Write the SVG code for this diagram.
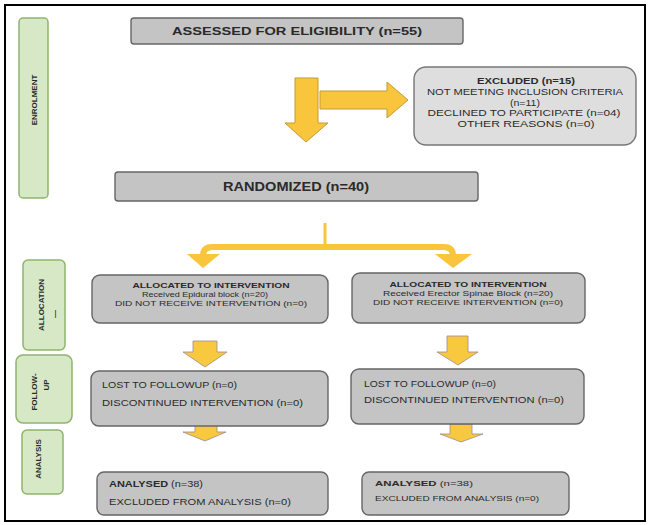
<svg xmlns="http://www.w3.org/2000/svg" width="649" height="525" viewBox="0 0 649 525">
<style>
.tab{fill:#d6e8c6;stroke:#8fb46e;stroke-width:1.5}
.tabt{font-family:"Liberation Sans",Arial,sans-serif;font-size:8px;font-weight:bold;fill:#2a2a2a;text-anchor:middle}
.box{fill:#c4c4c4;stroke:#666;stroke-width:1.4}
.lbox{fill:#dedede;stroke:#777;stroke-width:1.4}
.t{font-family:"Liberation Sans",Arial,sans-serif;fill:#2a2a2a}
.b{font-weight:bold}
.c{text-anchor:middle}
.arr{fill:#f8c53c;stroke:#c39a36;stroke-width:1}
.sarr{fill:#f8c83f;stroke:#9b8a9a;stroke-width:0.8}
</style>
<rect x="0" y="0" width="649" height="525" fill="#fff"/>
<rect x="5" y="5" width="640" height="516" fill="none" stroke="#000" stroke-width="2"/>

<g id="tab-enrolment">
<rect class="tab" x="19" y="18" width="29" height="180" rx="4"/>
<text class="tabt" transform="rotate(-90 34 100)" x="34" y="103">ENROLMENT</text>
</g>
<g id="tab-allocation">
<rect class="tab" x="23" y="260" width="42" height="90" rx="5"/>
<text class="tabt" transform="rotate(-90 41 305)" x="41" y="308">ALLOCATION</text>
<text class="tabt" transform="rotate(-90 54 314)" x="54" y="317">—</text>
</g>
<g id="tab-followup">
<rect class="tab" x="16" y="355" width="56" height="68" rx="7"/>
<text class="tabt" transform="rotate(-90 34 392)" x="34" y="395">FOLLOW-</text>
<text class="tabt" transform="rotate(-90 46 385)" x="46" y="388">UP</text>
</g>
<g id="tab-analysis">
<rect class="tab" x="22" y="430" width="41" height="64" rx="5"/>
<text class="tabt" transform="rotate(-90 38 459)" x="38" y="462">ANALYSIS</text>
</g>

<g id="connectors">
<path class="arr" d="M295 78 H318 V123 H328 L306 142 L285 123 H295 Z"/>
<path class="arr" d="M320 91 H387 V82 L408 100 L387 118 V109 H320 Z"/>
<line x1="325" y1="223" x2="325" y2="247" stroke="#f8c53c" stroke-width="3"/>
<path d="M203 256 Q203 247 212 247 L444 247 Q453 247 453 256" fill="none" stroke="#f8c53c" stroke-width="6"/>
<polygon points="187,254 220,254 203,268" fill="#f8c53c"/>
<polygon points="435,254 472,254 453,268" fill="#f8c53c"/>
<path class="sarr" d="M193 341 H217 V352 H227 L205 367 L183 352 H193 Z"/>
<path class="sarr" d="M447 336 H468 V352 H478 L458 365 L437 352 H447 Z"/>
<path class="sarr" d="M195 424 H217 V432 H226 L205 441 L183 432 H195 Z"/>
<path class="sarr" d="M450 424 H472 V434 H483 L461 442 L440 434 H450 Z"/>
</g>

<g id="assessed">
<rect class="box" x="131" y="18" width="332" height="26" rx="3"/>
<text class="t b c" x="297" y="35" font-size="11.5" textLength="250" lengthAdjust="spacingAndGlyphs">ASSESSED FOR ELIGIBILITY (n=55)</text>
</g>
<g id="excluded">
<rect class="lbox" x="414" y="67" width="222" height="78" rx="12"/>
<text class="t b c" x="526" y="84" font-size="8.5" textLength="98" lengthAdjust="spacingAndGlyphs">EXCLUDED (n=15)</text>
<text class="t c" x="525" y="95" font-size="8.5" textLength="196" lengthAdjust="spacingAndGlyphs">NOT MEETING INCLUSION CRITERIA</text>
<text class="t c" x="525" y="106" font-size="8.5" textLength="30" lengthAdjust="spacingAndGlyphs">(n=11)</text>
<text class="t c" x="524" y="116" font-size="8.5" textLength="193" lengthAdjust="spacingAndGlyphs">DECLINED TO PARTICIPATE (n=04)</text>
<text class="t c" x="526" y="127" font-size="8.5" textLength="137" lengthAdjust="spacingAndGlyphs">OTHER REASONS (n=0)</text>
</g>
<g id="randomized">
<rect class="box" x="115" y="172" width="363" height="29" rx="3"/>
<text class="t b c" x="296" y="191" font-size="12" textLength="146" lengthAdjust="spacingAndGlyphs">RANDOMIZED (n=40)</text>
</g>
<g id="alloc-left">
<rect class="box" x="92" y="275" width="236" height="48" rx="8"/>
<text class="t b c" x="211" y="288" font-size="7.5" textLength="157" lengthAdjust="spacingAndGlyphs">ALLOCATED TO INTERVENTION</text>
<text class="t c" x="205" y="297" font-size="7" textLength="126" lengthAdjust="spacingAndGlyphs">Received Epidural block (n=20)</text>
<text class="t c" x="211" y="306" font-size="7" textLength="192" lengthAdjust="spacingAndGlyphs">DID NOT RECEIVE INTERVENTION (n=0)</text>
</g>
<g id="alloc-right">
<rect class="box" x="352" y="273" width="233" height="50" rx="8"/>
<text class="t b c" x="468" y="287" font-size="7.5" textLength="157" lengthAdjust="spacingAndGlyphs">ALLOCATED TO INTERVENTION</text>
<text class="t c" x="468" y="296" font-size="7" textLength="170" lengthAdjust="spacingAndGlyphs">Received Erector Spinae Block (n=20)</text>
<text class="t c" x="468" y="305" font-size="7" textLength="190" lengthAdjust="spacingAndGlyphs">DID NOT RECEIVE INTERVENTION (n=0)</text>
</g>
<g id="follow-left">
<rect class="box" x="91" y="371" width="237" height="55" rx="8"/>
<text class="t" x="102" y="388" font-size="8.5" textLength="135" lengthAdjust="spacingAndGlyphs">LOST TO FOLLOWUP (n=0)</text>
<text class="t" x="102" y="406" font-size="8.5" textLength="201" lengthAdjust="spacingAndGlyphs">DISCONTINUED INTERVENTION (n=0)</text>
</g>
<g id="follow-right">
<rect class="box" x="351" y="369" width="233" height="55" rx="8"/>
<text class="t" x="364" y="387" font-size="8.5" textLength="132" lengthAdjust="spacingAndGlyphs">LOST TO FOLLOWUP (n=0)</text>
<text class="t" x="364" y="403" font-size="8.5" textLength="200" lengthAdjust="spacingAndGlyphs">DISCONTINUED INTERVENTION (n=0)</text>
</g>
<g id="analysis-left">
<rect class="box" x="97" y="472" width="231" height="43" rx="7"/>
<text class="t" x="109" y="487" font-size="8.5" textLength="94" lengthAdjust="spacingAndGlyphs"><tspan class="b">ANALYSED</tspan> (n=38)</text>
<text class="t" x="109" y="505" font-size="8.5" textLength="182" lengthAdjust="spacingAndGlyphs">EXCLUDED FROM ANALYSIS (n=0)</text>
</g>
<g id="analysis-right">
<rect class="box" x="362" y="472" width="207" height="43" rx="7"/>
<text class="t" x="375" y="486" font-size="7.5" textLength="98" lengthAdjust="spacingAndGlyphs"><tspan class="b">ANALYSED</tspan> (n=38)</text>
<text class="t" x="375" y="501" font-size="7.5" textLength="164" lengthAdjust="spacingAndGlyphs">EXCLUDED FROM ANALYSIS (n=0)</text>
</g>
</svg>
